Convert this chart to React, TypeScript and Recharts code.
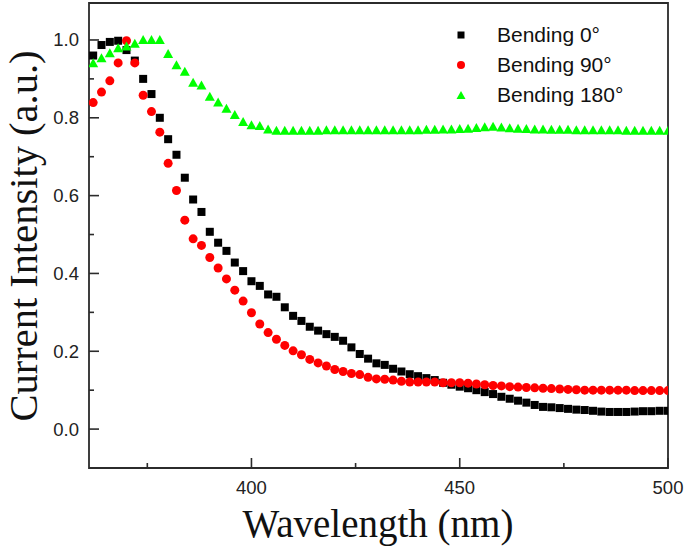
import { ComposedChart, Scatter, XAxis, YAxis, ReferenceArea } from "recharts";

const wavelengths = [
  362, 364, 366, 368, 370, 372, 374, 376, 378, 380,
  382, 384, 386, 388, 390, 392, 394, 396, 398, 400,
  402, 404, 406, 408, 410, 412, 414, 416, 418, 420,
  422, 424, 426, 428, 430, 432, 434, 436, 438, 440,
  442, 444, 446, 448, 450, 452, 454, 456, 458, 460,
  462, 464, 466, 468, 470, 472, 474, 476, 478, 480,
  482, 484, 486, 488, 490, 492, 494, 496, 498, 500,
];

const bending0 = [
  0.960, 0.987, 0.995, 0.998, 0.974, 0.947, 0.900, 0.861, 0.800, 0.745,
  0.705, 0.646, 0.590, 0.558, 0.507, 0.479, 0.458, 0.428, 0.406, 0.380,
  0.368, 0.346, 0.340, 0.313, 0.291, 0.278, 0.263, 0.253, 0.244, 0.237,
  0.227, 0.210, 0.193, 0.181, 0.169, 0.165, 0.155, 0.148, 0.141, 0.136,
  0.131, 0.126, 0.119, 0.114, 0.109, 0.105, 0.100, 0.095, 0.090, 0.083,
  0.078, 0.073, 0.068, 0.062, 0.057, 0.056, 0.054, 0.052, 0.050, 0.049,
  0.047, 0.045, 0.044, 0.044, 0.044, 0.045, 0.046, 0.046, 0.047, 0.047,
];

const bending90 = [
  0.839, 0.866, 0.895, 0.941, 0.998, 0.941, 0.858, 0.816, 0.763, 0.683,
  0.613, 0.537, 0.489, 0.472, 0.441, 0.414, 0.386, 0.357, 0.329, 0.299,
  0.270, 0.248, 0.231, 0.215, 0.201, 0.191, 0.179, 0.170, 0.162, 0.153,
  0.148, 0.143, 0.140, 0.133, 0.129, 0.128, 0.126, 0.123, 0.121, 0.121,
  0.121, 0.121, 0.119, 0.119, 0.119, 0.118, 0.116, 0.114, 0.112, 0.111,
  0.109, 0.108, 0.107, 0.106, 0.105, 0.104, 0.103, 0.102, 0.101, 0.100,
  0.100, 0.100, 0.100, 0.100, 0.100, 0.099, 0.099, 0.099, 0.099, 0.099,
];

const bending180 = [
  0.940, 0.953, 0.966, 0.979, 0.983, 0.990, 1.000, 1.000, 1.000, 0.964,
  0.935, 0.918, 0.890, 0.883, 0.854, 0.839, 0.823, 0.807, 0.789, 0.781,
  0.779, 0.770, 0.767, 0.767, 0.767, 0.767, 0.767, 0.767, 0.768, 0.768,
  0.768, 0.768, 0.768, 0.768, 0.768, 0.768, 0.768, 0.768, 0.768, 0.768,
  0.769, 0.769, 0.770, 0.770, 0.771, 0.772, 0.774, 0.776, 0.777, 0.775,
  0.773, 0.772, 0.771, 0.770, 0.770, 0.769, 0.769, 0.769, 0.768, 0.768,
  0.768, 0.768, 0.768, 0.768, 0.767, 0.767, 0.767, 0.767, 0.767, 0.767,
];

const xTicks = [375, 400, 425, 450, 475, 500];
const xLabelled = [400, 450, 500];
const yTicks = [0, 0.1, 0.2, 0.3, 0.4, 0.5, 0.6, 0.7, 0.8, 0.9, 1.0];
const yLabelled = ["0.0", "0.2", "0.4", "0.6", "0.8", "1.0"];

const AXIS = "#2b2b2b";
const SANS = "'Liberation Sans', Arial, sans-serif";
const SERIF = "'Liberation Serif', 'Times New Roman', serif";

const toPoints = (vals: number[]) => wavelengths.map((wl, i) => ({ wl, v: vals[i] }));

// marker shapes, drawn at the scaled cx/cy
const Square = (p: any) => <rect x={p.cx - 4} y={p.cy - 4} width={8} height={8} fill="#000" />;
const Dot = (p: any) => <circle cx={p.cx} cy={p.cy} r={4.5} fill="#ff0000" />;
const Tri = (p: any) => (
  <polygon points={`${p.cx - 5},${p.cy + 4} ${p.cx + 5},${p.cy + 4} ${p.cx},${p.cy - 5}`} fill="#00ff00" />
);

const series = [
  { name: "Bending 0°", vals: bending0, shape: Square, kind: "sq" },
  { name: "Bending 90°", vals: bending90, shape: Dot, kind: "ci" },
  { name: "Bending 180°", vals: bending180, shape: Tri, kind: "tr" },
];

const XTick = (props: any) => {
  const { x, y, payload } = props;
  const major = xLabelled.includes(payload.value);
  return (
    <g>
      <line x1={x} x2={x} y1={y} y2={y - (major ? 10 : 5)} stroke={AXIS} strokeWidth={1.6} />
      {major && (
        <text x={x} y={y + 26} textAnchor="middle" fontFamily={SANS} fontSize={18.5} fill="#222">
          {payload.value}
        </text>
      )}
    </g>
  );
};

const YTick = (props: any) => {
  const { x, y, payload } = props;
  const lbl = payload.value.toFixed(1);
  const major = yLabelled.includes(lbl);
  return (
    <g>
      <line x1={x} x2={x + (major ? 10 : 5)} y1={y} y2={y} stroke={AXIS} strokeWidth={1.6} />
      {major && (
        <text x={x - 10} y={y + 6.5} textAnchor="end" fontFamily={SANS} fontSize={18.5} fill="#222">
          {lbl}
        </text>
      )}
    </g>
  );
};

const LegendBox = () => (
  <div style={{ position: "absolute", left: 454, top: 20, fontFamily: SANS, fontSize: 21, color: "#111" }}>
    {series.map((s) => (
      <div key={s.name} style={{ display: "flex", alignItems: "center", height: 30 }}>
        <svg width={14} height={14} style={{ marginRight: 29 }}>
          {s.kind === "sq" && <rect x={3.5} y={3.5} width={7} height={7} fill="#000" />}
          {s.kind === "ci" && <circle cx={7} cy={7} r={4} fill="#ff0000" />}
          {s.kind === "tr" && <polygon points="2.5,11 11.5,11 7,3" fill="#00ff00" />}
        </svg>
        <span>{s.name}</span>
      </div>
    ))}
  </div>
);

export default function App() {
  return (
    <div style={{ position: "absolute", left: 0, top: 0, width: 685, height: 548, background: "#fff" }}>
      <ComposedChart width={685} height={548} margin={{ top: 3, right: 17, bottom: 40, left: 39 }}>
        <XAxis
          type="number"
          dataKey="wl"
          domain={[361, 500]}
          allowDataOverflow
          ticks={xTicks}
          interval={0}
          height={40}
          tickSize={0}
          tickMargin={0}
          tickLine={false}
          axisLine={false}
          tick={(p: any) => <XTick {...p} />}
        />
        <YAxis
          type="number"
          dataKey="v"
          domain={[-0.1, 1.095]}
          allowDataOverflow
          ticks={yTicks}
          interval={0}
          width={50}
          tickSize={0}
          tickMargin={0}
          tickLine={false}
          axisLine={false}
          tick={(p: any) => <YTick {...p} />}
        />
        <ReferenceArea x1={361} x2={500} y1={-0.1} y2={1.095} fill="none" stroke={AXIS} strokeWidth={1.8} ifOverflow="visible" />
        {series.map((s) => (
          <Scatter key={s.name} name={s.name} data={toPoints(s.vals)} shape={s.shape} isAnimationActive={false} />
        ))}
      </ComposedChart>
      <LegendBox />
      <svg width={685} height={548} style={{ position: "absolute", left: 0, top: 0, pointerEvents: "none" }}>
        <text x={378} y={537} textAnchor="middle" fontFamily={SERIF} fontSize={39} fill="#111">
          Wavelength (nm)
        </text>
        <text x={37} y={236} textAnchor="middle" fontFamily={SERIF} fontSize={40.5} fill="#111" transform="rotate(-90 37 236)">
          Current Intensity (a.u.)
        </text>
      </svg>
    </div>
  );
}
